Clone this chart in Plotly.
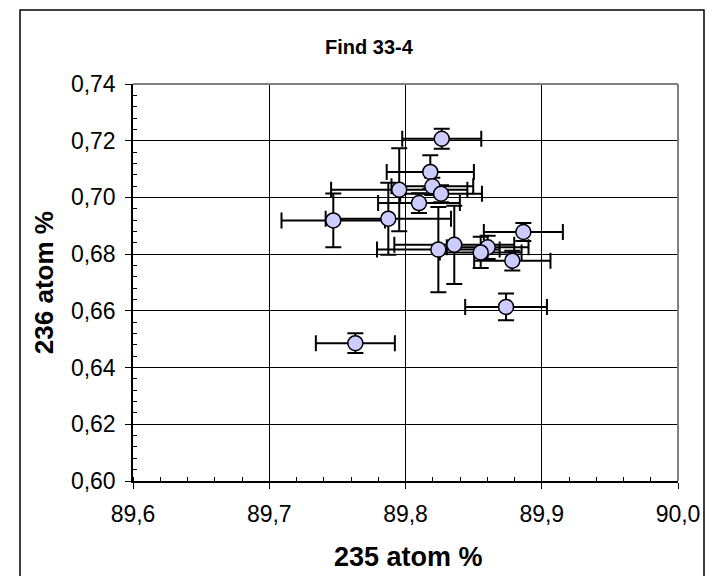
import plotly.graph_objects as go

# Isotope ratios per particle: 235U and 236U atom %, with 2-sigma uncertainties
u235 = [89.8266, 89.8182, 89.7954, 89.8197, 89.8261, 89.8099, 89.7470, 89.7874,
        89.8241, 89.8358, 89.8865, 89.8603, 89.8552, 89.8784, 89.8738, 89.7632]
u235_err = [0.029, 0.032, 0.050, 0.030, 0.030, 0.030, 0.038, 0.046,
            0.045, 0.044, 0.029, 0.030, 0.030, 0.028, 0.030, 0.029]
u236 = [0.7207, 0.7090, 0.7027, 0.7039, 0.7013, 0.6980, 0.6919, 0.6925,
        0.6816, 0.6833, 0.6878, 0.6824, 0.6806, 0.6777, 0.6614, 0.6486]
u236_err = [0.0035, 0.0059, 0.0146, 0.0030, 0.0030, 0.0035, 0.0095, 0.0127,
            0.0150, 0.0138, 0.0032, 0.0041, 0.0055, 0.0035, 0.0047, 0.0035]

chart_title = "Find 33-4"
x_title = "235 atom %"
y_title = "236 atom %"

FONT = "Liberation Sans, Arial, sans-serif"

fig = go.Figure()
fig.add_trace(go.Scatter(
    x=u235, y=u236, mode="markers",
    marker=dict(size=15, color="#CCCCFF", line=dict(color="black", width=1.5)),
    error_x=dict(type="data", array=u235_err, color="black", thickness=2, width=8),
    error_y=dict(type="data", array=u236_err, color="black", thickness=2, width=8),
    showlegend=False,
))

axis_common = dict(
    showgrid=True, gridcolor="black", gridwidth=1,
    showline=True, linecolor="black", linewidth=1.5,
    ticks="outside", ticklen=6, tickcolor="black", tickwidth=1,
    tickfont=dict(family=FONT, size=23, color="black"),
    zeroline=False,
)

fig.update_xaxes(range=[89.6, 90.0], dtick=0.1, tick0=89.6, tickformat=".1f",
                 ticklabelstandoff=6,
                 minor=dict(dtick=0.02, ticks="inside", ticklen=4, tickcolor="black",
                            showgrid=False),
                 **axis_common)
fig.update_yaxes(range=[0.60, 0.74], dtick=0.02, tick0=0.60, tickformat=".2f",
                 ticklabelstandoff=5,
                 minor=dict(dtick=0.004, ticks="inside", ticklen=4, tickcolor="black",
                            showgrid=False),
                 **axis_common)

fig.update_layout(
    width=718, height=576,
    margin=dict(l=133, r=40, t=84, b=95),
    paper_bgcolor="white", plot_bgcolor="white",
    separators=",.",
    font=dict(family=FONT, color="black"),
    shapes=[
        # chart frame
        dict(type="rect", xref="paper", yref="paper",
             x0=-0.2073, x1=1.0477, y0=-0.28, y1=1.1864,
             line=dict(color="black", width=1.5), fillcolor="rgba(0,0,0,0)",
             layer="below"),
        # grey plot-area border on top and right
        dict(type="line", xref="paper", yref="paper", x0=0, x1=1, y0=1, y1=1,
             line=dict(color="#808080", width=2)),
        dict(type="line", xref="paper", yref="paper", x0=1, x1=1, y0=0, y1=1,
             line=dict(color="#808080", width=2)),
    ],
    annotations=[
        dict(text=f"<b>{chart_title}</b>", xref="paper", yref="paper",
             x=0.434, y=1.093, xanchor="center", yanchor="middle",
             showarrow=False, font=dict(family=FONT, size=20)),
        dict(text=f"<b>{x_title}</b>", xref="paper", yref="paper",
             x=0.505, y=-0.191, xanchor="center", yanchor="middle",
             showarrow=False, font=dict(family=FONT, size=27)),
        dict(text=f"<b>{y_title}</b>", xref="paper", yref="paper",
             x=-0.163, y=0.4987, xanchor="center", yanchor="middle",
             textangle=-90, showarrow=False, font=dict(family=FONT, size=26)),
    ],
)

fig.write_html("out.html")
